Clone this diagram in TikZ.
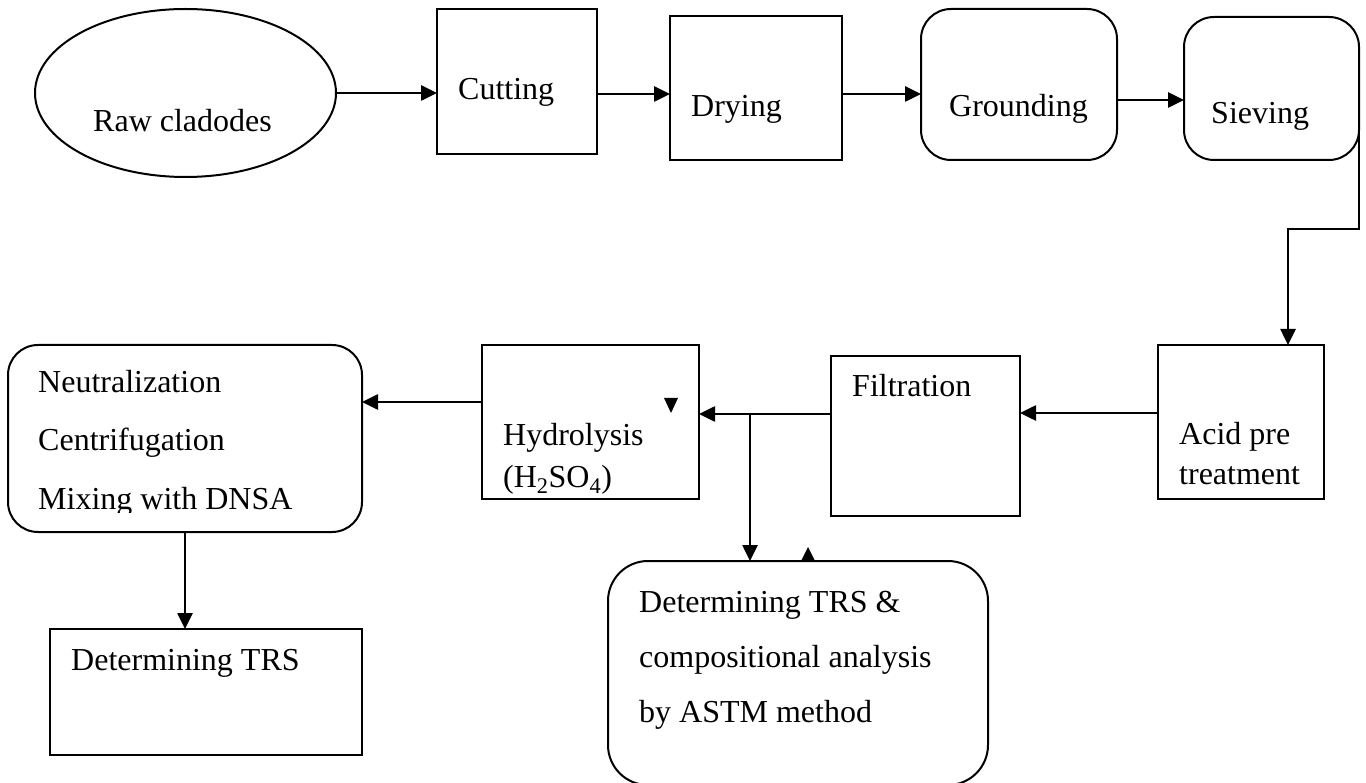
\documentclass[tikz,border=0pt]{standalone}
\usepackage{fontspec}
\setmainfont{Liberation Serif}
\usetikzlibrary{shapes.geometric,arrows.meta}
\begin{document}
\begin{tikzpicture}[x=1pt,y=-1pt,
  box/.style={draw,line width=2pt,inner sep=0pt,outer sep=0pt,anchor=north west},
  rbox/.style={box,rounded corners=30pt},
  txt/.style={anchor=base west,inner sep=0pt,font=\fontsize{32}{36}\selectfont},
  arr/.style={line width=2.6pt,-{Triangle[length=16pt,width=15pt]}},
  tri/.style={fill=black}]
\useasboundingbox (0,0) rectangle (1366,783);
% boxes
\node[draw,line width=2pt,ellipse,inner sep=0pt,outer sep=0pt,minimum width=301pt,minimum height=168pt] (raw) at (185.5,93) {};
\node[box,minimum width=160pt,minimum height=145pt] (cut) at (437,9) {};
\node[box,minimum width=172pt,minimum height=144pt] (dry) at (670,16) {};
\node[rbox,minimum width=196pt,minimum height=151pt] (grd) at (921,9) {};
\node[rbox,minimum width=175pt,minimum height=143pt] (sie) at (1184,17) {};
\node[box,minimum width=166pt,minimum height=154pt] (acid) at (1158,345) {};
\node[box,minimum width=189pt,minimum height=160pt] (fil) at (831,356) {};
\node[box,minimum width=217pt,minimum height=154pt] (hyd) at (482,345) {};
\node[rbox,minimum width=354pt,minimum height=187pt] (neu) at (8,345) {};
\node[box,minimum width=312pt,minimum height=126pt] (trsa) at (50,629) {};
\node[box,rounded corners=40pt,minimum width=380pt,minimum height=224pt] (trsb) at (608,561) {};
% texts
\node[txt] (traw) at (93,132) {Raw cladodes};
\node[txt] (tcut) at (458,100) {Cutting};
\node[txt] (tdry) at (691,117) {Drying};
\node[txt] (tgrd) at (949,117) {Grounding};
\node[txt] (tsie) at (1211,124) {Sieving};
\node[txt] (tacida) at (1179,445) {Acid pre};
\node[txt] (tacidb) at (1179,485) {treatment};
\node[txt] (tfil) at (852,397) {Filtration};
\node[txt] (thyda) at (503,446) {Hydrolysis};
\node[txt] (thydb) at (503,487) {(H\textsubscript{2}SO\textsubscript{4})};
\begin{scope}
\clip (0,330) rectangle (480,512);
\node[txt] (tneua) at (38,393) {Neutralization};
\node[txt] (tneub) at (38,450) {Centrifugation};
\node[txt] (tneuc) at (38,509) {Mixing with DNSA};
\end{scope}
\node[txt] (ttrsa) at (71,670) {Determining TRS};
\node[txt] (ttrsba) at (639,612) {Determining TRS \&};
\node[txt] (ttrsbb) at (639,667) {compositional analysis};
\node[txt] (ttrsbc) at (639,722) {by ASTM method};
% connectors
\draw[arr] (raw.east) -- (raw.east -| cut.west);
\draw[arr] (cut.east |- 0,94) -- (dry.west |- 0,94);
\draw[arr] (dry.east |- 0,94) -- (grd.west |- 0,94);
\draw[arr] (grd.east |- 0,100) -- (sie.west |- 0,100);
\coordinate (bend) at (1288,229);
\draw[arr] (sie.east |- 0,113) -- (sie.east |- bend) -- (bend) -- (bend |- acid.north);
\draw[arr] (acid.west |- 0,413) -- (fil.east |- 0,413);
\draw[arr] (fil.west |- 0,414) -- (hyd.east |- 0,414);
\coordinate (br) at (750,414);
\draw[arr] (br) -- (br |- trsb.north);
\draw[arr] (hyd.west |- 0,402) -- (neu.east |- 0,402);
\draw[arr] (neu.south) -- (neu.south |- trsa.north);
% stray arrowheads
\fill[tri] (664,398) -- (678,398) -- (671,413) -- cycle;
\fill[tri] (801,561) -- (815,561) -- (808,547) -- cycle;
\end{tikzpicture}
\end{document}
